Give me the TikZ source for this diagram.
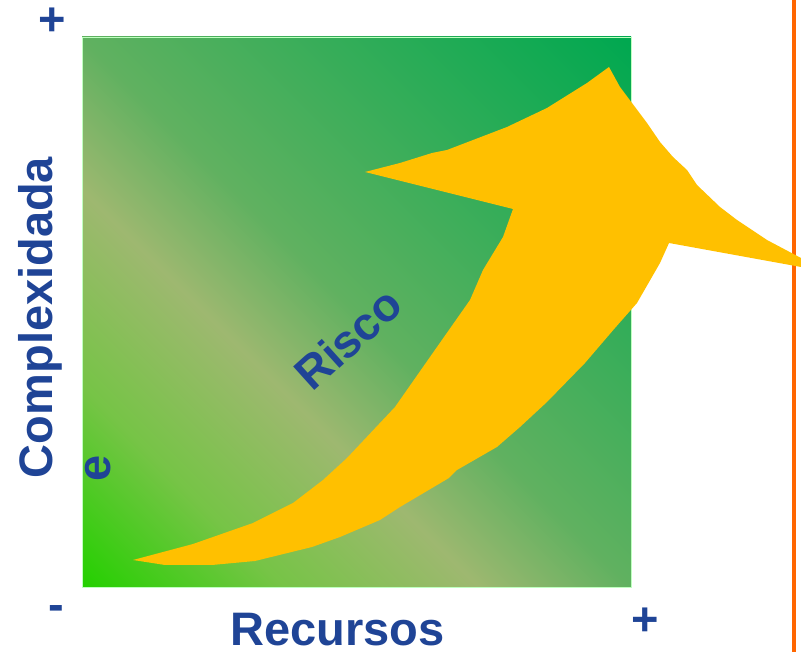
\documentclass[tikz,border=0pt]{standalone}
\usepackage{fontspec}
\setmainfont{Liberation Sans}
\definecolor{labelblue}{RGB}{31,68,150}
\definecolor{arrowyellow}{RGB}{255,192,0}
\definecolor{edgeorange}{RGB}{255,102,0}
\definecolor{fieldbright}{RGB}{36,208,0}
\definecolor{fieldlime}{RGB}{118,196,70}
\definecolor{fieldolive}{RGB}{158,184,112}
\definecolor{fieldmid}{RGB}{96,177,96}
\definecolor{fielddark}{RGB}{0,168,80}
\pgfdeclarehorizontalshading{fieldshading}{100bp}{color(0bp)=(fieldbright); color(14.6bp)=(fieldbright); color(27.4bp)=(fieldlime); color(40.1bp)=(fieldolive); color(50bp)=(fieldmid); color(85.4bp)=(fielddark); color(100bp)=(fielddark)}
\tikzset{
x=1pt, y=1pt, % one unit per pixel of the reference
field/.style={shading=fieldshading, shading angle=45, draw=white!75!green, line width=0.8pt}, % the green square
axis text/.style={text=labelblue, font=\fontsize{47}{50}\selectfont\bfseries, inner sep=0pt}, % axis names and signs
risk arrow/.style={fill=arrowyellow}, % the rising arrow
edge line/.style={draw=edgeorange, line width=4pt}, % orange line on the right
}
\begin{document}
\begin{tikzpicture}
\useasboundingbox (0,0) rectangle (801,652);

\shade[field] (82,65) rectangle (631,615);
\draw[edge line] (794,0) -- (794,652);

\fill[risk arrow] (133,92) -- (193,108) -- (253,129) -- (293,149) -- (323,172) -- (347,194) -- (363,211)
  -- (395,245) -- (437,305) -- (470,352) -- (483,382) -- (503,415) -- (513,443)
  -- (365,480) -- (400,489) -- (432,499) -- (447,502) -- (507,525) -- (547,544) -- (587,569)
  -- (609,585) -- (620,565) -- (647,529) -- (660,510) -- (673,495) -- (687,482) -- (697,467)
  -- (720,445) -- (737,432) -- (767,412) -- (801,394) -- (826,380) -- (801,385)
  -- (669,409) -- (660,389) -- (637,349) -- (615,324) -- (585,289) -- (547,250) -- (520,225)
  -- (497,205) -- (457,182) -- (449,174) -- (400,145) -- (380,132) -- (340,115) -- (312,105)
  -- (255,91) -- (212,87) -- (165,87) -- cycle;

\node[axis text] at (52,630.5) (plusy) {+};
\node[axis text] at (56,39) (minus) {-};
\node[axis text] at (645.5,30.5) (plusx) {+};
\node[axis text, anchor=base] at (337.5,6) (recursos) {Recursos};
\node[axis text, anchor=base, rotate=90] at (52,334.5) (complexidade) {Complexidada};
\node[axis text, anchor=base, rotate=90] at (110,184) (ee) {e};
\node[axis text, anchor=base, rotate=42, font=\fontsize{46}{50}\selectfont\bfseries] at (359,301) (risco) {Risco};

\end{tikzpicture}
\end{document}
